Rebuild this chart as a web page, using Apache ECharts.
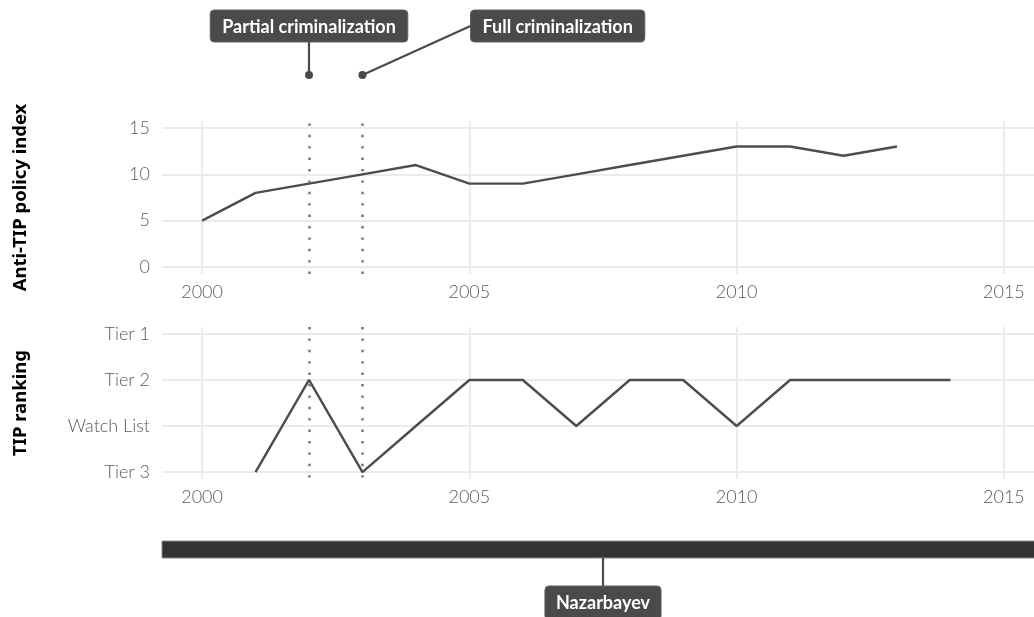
<!DOCTYPE html>
<html>
<head>
<meta charset="utf-8">
<script src="https://cdn.jsdelivr.net/npm/echarts@6/dist/echarts.min.js"></script>
<style>html,body{margin:0;padding:0;background:#fff}#c{width:1034px;height:617px}</style>
</head>
<body>
<div id="c"></div>
<script>
// ---- data ----
const policyYears = [2000,2001,2002,2003,2004,2005,2006,2007,2008,2009,2010,2011,2012,2013];
const policyIndex = [5,8,9,10,11,9,9,10,11,12,13,13,12,13];
const rankYears = [2001,2002,2003,2004,2005,2006,2007,2008,2009,2010,2011,2012,2013,2014];
const rankValues = ['Tier 3','Tier 2','Tier 3','Watch List','Tier 2','Tier 2','Watch List','Tier 2','Tier 2','Watch List','Tier 2','Tier 2','Tier 2','Tier 2'];
const tiers = ['Tier 1','Tier 2','Watch List','Tier 3'];
const yearTicks = [2000,2005,2010,2015];
const policyTicks = [0,5,10,15];
const eventYears = [2002,2003];
const eventLabels = ['Partial criminalization','Full criminalization'];
const leaderNames = ['Nazarbayev'];
const leaderStart = [1990];
const leaderEnd = [2019];

// ---- styles / layout ----
const X_MIN = 1999.25, X_MAX = 2015.75;
const GL = 162, GW = 882;
const tickFont = {fontFamily:'Lato', fontSize:18, fontWeight:300, color:'#5a5a5a'};
const titleFont = {fontFamily:'Noto Sans', fontSize:18.5, fontWeight:'bold', color:'#000'};
const gridColor = '#ebebeb';
const lineColor = '#4d4d4d';
const boxColor = '#4a4a4a';
const labelFont = 'bold 18px Lato';
const eventLabelLayout = [ {dx:0, boxY:10, align:'center'}, {dx:108, boxY:10, align:'left'} ];
const dotY = 75;

const policyData = policyYears.map((y,i)=>[y, policyIndex[i]]);
const rankData = rankYears.map((y,i)=>[y, tiers.indexOf(rankValues[i])+1]);

function xAxisBase(gridIndex, showLabels){
  return {
    type:'value', gridIndex, min:X_MIN, max:X_MAX,
    axisLine:{show:false}, axisTick:{show:false, customValues:yearTicks},
    axisLabel:{show:showLabels, customValues:yearTicks, margin:9, ...tickFont, formatter:v=>String(v)},
    splitLine:{show:showLabels, lineStyle:{color:gridColor, width:2}}
  };
}

const dottedMark = {
  silent:true, symbol:['none','none'],
  label:{show:false},
  lineStyle:{color:'#7a7a7a', width:2.6, type:[2.4,9]},
  data: eventYears.map(y=>({xAxis:y}))
};

function textWidth(t){
  return echarts.format.getTextRect ? echarts.format.getTextRect(t, labelFont).width : t.length*9;
}

const chart = echarts.init(document.getElementById('c'));
const gridBase = {left:GL, width:GW, outerBoundsMode:'none', containLabel:false};
chart.setOption({
  animation:false,
  backgroundColor:'#fff',
  grid:[
    {...gridBase, top:0, height:110},
    {...gridBase, top:121, height:153},
    {...gridBase, top:327, height:152},
    {...gridBase, top:541, height:17}
  ],
  xAxis:[
    xAxisBase(0,false),
    xAxisBase(1,true),
    xAxisBase(2,true),
    xAxisBase(3,false)
  ],
  yAxis:[
    {type:'value', gridIndex:0, min:0, max:1, show:false},
    {type:'value', gridIndex:1, min:-0.75, max:15.75,
      name:'Anti-TIP policy index', nameLocation:'middle', nameGap:132, nameTextStyle:titleFont,
      axisLine:{show:false}, axisTick:{show:false, customValues:policyTicks},
      axisLabel:{customValues:policyTicks, margin:12, ...tickFont},
      splitLine:{lineStyle:{color:gridColor, width:2}}},
    {type:'value', gridIndex:2, min:0.85, max:4.15, inverse:true,
      name:'TIP ranking', nameLocation:'middle', nameGap:132, nameTextStyle:titleFont,
      axisLine:{show:false}, axisTick:{show:false, customValues:[1,2,3,4]},
      axisLabel:{customValues:[1,2,3,4], margin:12, ...tickFont, formatter:v=>tiers[Math.round(v)-1]},
      splitLine:{lineStyle:{color:gridColor, width:2}}},
    {type:'value', gridIndex:3, min:0, max:1, show:false}
  ],
  series:[
    {type:'line', xAxisIndex:1, yAxisIndex:1, data:policyData, symbol:'none',
      lineStyle:{color:lineColor, width:2.4}, markLine:dottedMark, z:3},
    {type:'line', xAxisIndex:2, yAxisIndex:2, data:rankData, symbol:'none',
      lineStyle:{color:lineColor, width:2.4}, markLine:dottedMark, z:3},
    {type:'custom', xAxisIndex:0, yAxisIndex:0, clip:false,
      data:eventYears.map((y,i)=>[y,i]),
      renderItem:function(params, api){
        const i = api.value(1);
        const x = api.coord([api.value(0),0])[0];
        const lay = eventLabelLayout[i];
        const text = eventLabels[i];
        const tw = textWidth(text);
        const padX = 12, bh = 32;
        const bw = tw + padX*2;
        const bx = lay.align === 'center' ? x - bw/2 : x + lay.dx;
        const by = lay.boxY;
        const lineShape = lay.align === 'center'
          ? {x1:x, y1:dotY, x2:x, y2:by+bh}
          : {x1:x, y1:dotY, x2:bx, y2:by+bh/2};
        return {type:'group', children:[
          {type:'line', shape:lineShape, style:{stroke:boxColor, lineWidth:2.2}},
          {type:'circle', shape:{cx:x, cy:dotY, r:4}, style:{fill:boxColor}},
          {type:'rect', shape:{x:bx, y:by, width:bw, height:bh, r:4}, style:{fill:boxColor, stroke:'#5e5e5e', lineWidth:1}},
          {type:'text', x:bx+bw/2, y:by+bh/2+1, style:{text, fill:'#fff', font:labelFont, align:'center', verticalAlign:'middle'}}
        ]};
      }
    },
    {type:'custom', xAxisIndex:3, yAxisIndex:3, clip:false,
      data:leaderNames.map((n,i)=>[leaderStart[i], leaderEnd[i], i]),
      renderItem:function(params, api){
        const s = Math.max(api.value(0), X_MIN), e = Math.min(api.value(1), X_MAX);
        const p0 = api.coord([s,1]), p1 = api.coord([e,0]);
        const name = leaderNames[api.value(2)];
        const mid = (p0[0]+p1[0])/2;
        const tw = textWidth(name);
        const bw = tw + 22, bh = 34, by = p1[1] + 28;
        return {type:'group', children:[
          {type:'rect', shape:{x:p0[0], y:p0[1], width:p1[0]-p0[0], height:p1[1]-p0[1]}, style:{fill:'#333333', stroke:'#8a8a8a', lineWidth:1}},
          {type:'line', shape:{x1:mid, y1:p1[1], x2:mid, y2:by}, style:{stroke:boxColor, lineWidth:2.2}},
          {type:'rect', shape:{x:mid-bw/2, y:by, width:bw, height:bh, r:4}, style:{fill:boxColor, stroke:'#5e5e5e', lineWidth:1}},
          {type:'text', x:mid, y:by+bh/2, style:{text:name, fill:'#fff', font:labelFont, align:'center', verticalAlign:'middle'}}
        ]};
      }
    }
  ]
});
</script>
</body>
</html>
